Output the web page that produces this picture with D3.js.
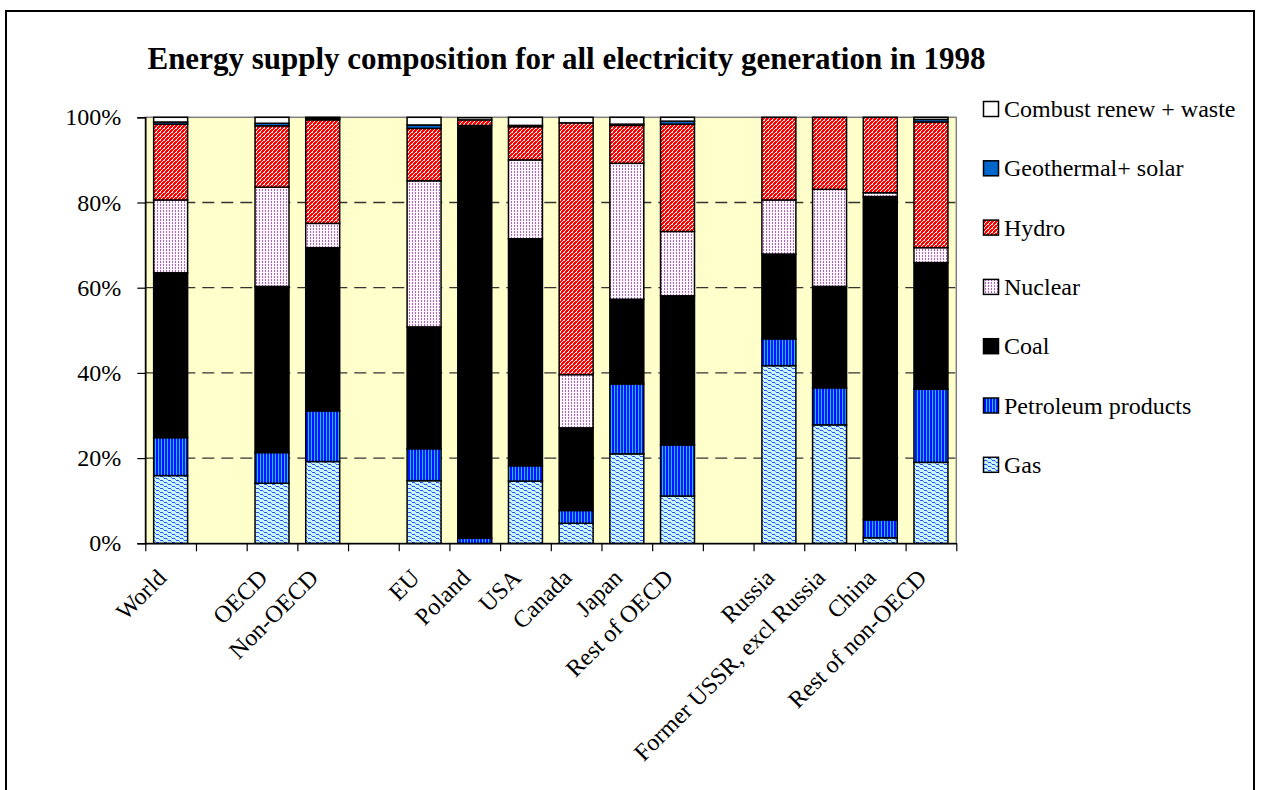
<!DOCTYPE html>
<html>
<head>
<meta charset="utf-8">
<script src="https://cdn.jsdelivr.net/npm/d3@7"></script>
<style>
  html, body { margin: 0; padding: 0; background: #fff; }
  svg { display: block; }
</style>
</head>
<body>
<svg id="chart" width="1261" height="790" font-family="'Liberation Serif', 'Times New Roman', serif"></svg>
<script>
// ---------------- data ----------------
const title = "Energy supply composition for all electricity generation in 1998";
const categories = ["World", "", "OECD", "Non-OECD", "", "EU", "Poland", "USA", "Canada", "Japan",
                    "Rest of OECD", "", "Russia", "Former USSR, excl Russia", "China", "Rest of non-OECD"];
// values in % of electricity generation (null = empty slot)
const gas        = [15.9, null, 14.1, 19.2, null, 14.7,  0.0, 14.6,  4.7, 21.0, 11.1, null, 41.7, 27.8,  1.3, 19.0];
const petroleum  = [ 8.9, null,  7.2, 11.9, null,  7.5,  1.2,  3.6,  3.0, 16.4, 12.0, null,  6.3,  8.7,  4.2, 17.2];
const coal       = [38.7, null, 39.0, 38.3, null, 28.6, 96.9, 53.3, 19.4, 19.9, 35.0, null, 19.9, 23.8, 75.9, 29.7];
const nuclear    = [17.1, null, 23.3,  5.7, null, 34.3,  0.0, 18.5, 12.5, 31.9, 15.1, null, 12.7, 22.8,  0.9,  3.5];
const hydro      = [17.8, null, 14.4, 24.3, null, 12.3,  1.3,  7.8, 59.1,  8.9, 25.2, null, 19.4, 16.9, 17.7, 29.5];
const geothermal = [ 0.5, null,  0.6,  0.3, null,  0.8,  0.0,  0.3,  0.0,  0.3,  0.7, null,  0.0,  0.0,  0.0,  0.6];
const combust    = [ 1.1, null,  1.4,  0.3, null,  1.8,  0.5,  1.9,  1.3,  1.6,  0.9, null,  0.0,  0.0,  0.0,  0.5];
const seriesNames = ["Gas", "Petroleum products", "Coal", "Nuclear", "Hydro", "Geothermal+ solar", "Combust renew + waste"];
const seriesValues = [gas, petroleum, coal, nuclear, hydro, geothermal, combust];
const yTicks = [0, 20, 40, 60, 80, 100];

// ---------------- layout ----------------
const FONT = "'Liberation Serif', 'Times New Roman', serif";
const svg = d3.select("#chart");
const plot = { left: 145.3, right: 956.3, top: 117.3, bottom: 543.3 };

// patterns
const defs = svg.append("defs");
function pat(id, w, h, bg, rects) {
  const p = defs.append("pattern").attr("id", id).attr("patternUnits", "userSpaceOnUse")
    .attr("width", w).attr("height", h);
  p.append("rect").attr("width", w).attr("height", h).attr("fill", bg);
  rects.forEach(r => p.append("rect").attr("x", r[0]).attr("y", r[1]).attr("width", r[2]).attr("height", r[3])
    .attr("fill", r[4]).attr("shape-rendering", "crispEdges"));
}
pat("p-gas", 8, 4, "#CCF6FF", [[0,0,3,1,"#2255FF"],[3,1,1,1,"#6688FF"],[4,2,3,1,"#2255FF"],[7,3,1,1,"#6688FF"]]);
pat("p-pet", 3, 2, "#0011FF", [[2,0,1,2,"#00CCFF"]]);
pat("p-nuc", 3, 3, "#FFF8FF", [[1,0,1,2,"#B060C0"]]);
pat("p-hyd", 4, 4, "#FF0000", [[3,0,1,1,"#FFFFFF"],[2,1,1,1,"#FFFFFF"],[1,2,1,1,"#FFFFFF"],[0,3,1,1,"#FFFFFF"],[0,0,1,1,"#FFCCCC"]]);
const fills = ["url(#p-gas)", "url(#p-pet)", "#000000", "url(#p-nuc)", "url(#p-hyd)", "#0066CC", "#FFFFFF"];

// outer border
svg.append("rect").attr("x", 6).attr("y", 11).attr("width", 1248).attr("height", 800)
  .attr("fill", "none").attr("stroke", "#000").attr("stroke-width", 2);

// scales
const idx = d3.range(categories.length);
const x = d3.scaleBand().domain(idx).range([plot.left, plot.right]).paddingInner(0).paddingOuter(0);
const xEdge = d3.scaleLinear().domain([0, categories.length]).range([plot.left, plot.right]);
const y = d3.scaleLinear().domain([0, 100]).range([plot.bottom, plot.top]);
const barW = x.bandwidth() * 0.67;

// plot background
svg.append("rect").attr("x", plot.left).attr("y", plot.top)
  .attr("width", plot.right - plot.left).attr("height", plot.bottom - plot.top)
  .attr("fill", "#FFFFCC").attr("stroke", "#808080").attr("stroke-width", 1.5);

// gridlines
svg.append("g").selectAll("line").data(yTicks.filter(t => t > 0 && t < 100)).join("line")
  .attr("x1", plot.left).attr("x2", plot.right)
  .attr("y1", d => y(d)).attr("y2", d => y(d))
  .attr("stroke", "#333").attr("stroke-width", 1.3).attr("stroke-dasharray", "12,7");

// stacked bars
const rows = idx.map(i => {
  const o = { i };
  seriesNames.forEach((s, k) => { o[s] = seriesValues[k][i] == null ? 0 : seriesValues[k][i]; });
  return o;
});
const stacked = d3.stack().keys(seriesNames)(rows);
const gBars = svg.append("g");
stacked.forEach((layer, k) => {
  gBars.append("g").selectAll("rect")
    .data(layer.filter(d => d[1] - d[0] > 0))
    .join("rect")
    .attr("x", d => x(d.data.i) + (x.bandwidth() - barW) / 2)
    .attr("width", barW)
    .attr("y", d => y(d[1]))
    .attr("height", d => y(d[0]) - y(d[1]))
    .attr("fill", fills[k])
    .attr("stroke", "#000").attr("stroke-width", 1.5);
});

// y axis
const yAxis = svg.append("g").attr("transform", `translate(${plot.left},0)`)
  .call(d3.axisLeft(y).tickValues(yTicks).tickFormat(d => d + "%").tickSize(8).tickPadding(16));
yAxis.attr("font-family", FONT).attr("font-size", 24);
yAxis.select(".domain").attr("stroke", "#000").attr("stroke-width", 1.5);
yAxis.selectAll(".tick line").attr("stroke", "#000").attr("stroke-width", 1.2);
yAxis.selectAll("text").style("font-family", FONT).style("font-size", "24px").attr("fill", "#000");

// x axis (ticks at slot boundaries)
const xAxis = svg.append("g").attr("transform", `translate(0,${plot.bottom})`)
  .call(d3.axisBottom(xEdge).tickValues(d3.range(categories.length + 1)).tickFormat("").tickSize(8).tickSizeOuter(0));
xAxis.select(".domain").attr("stroke", "#000").attr("stroke-width", 1.5);
xAxis.selectAll(".tick line").attr("stroke", "#000").attr("stroke-width", 1.2);

// category labels
svg.append("g").selectAll("text").data(idx.filter(i => categories[i] !== "")).join("text")
  .attr("transform", i => `translate(${x(i) + x.bandwidth() / 2 - 3},${plot.bottom + 36}) rotate(-45)`)
  .attr("text-anchor", "end")
  .style("font-family", FONT)
  .style("font-size", "24px")
  .text(i => categories[i]);

// title
svg.append("text").attr("x", 566.5).attr("y", 69).attr("text-anchor", "middle")
  .style("font-family", FONT)
  .style("font-size", "31px").style("font-weight", "bold").text(title);

// legend (top to bottom reverse of stacking)
const legendOrder = d3.range(seriesNames.length).reverse();
const lg = svg.append("g");
legendOrder.forEach((k, j) => {
  const cy = 109 + j * 59.3;
  lg.append("rect").attr("x", 983.5).attr("y", cy - 7.5).attr("width", 15).attr("height", 15)
    .attr("fill", fills[k]).attr("stroke", "#000").attr("stroke-width", 1.5);
  lg.append("text").attr("x", 1004).attr("y", cy + 8)
    .style("font-family", FONT).style("font-size", "24px").text(seriesNames[k]);
});
</script>
</body>
</html>
